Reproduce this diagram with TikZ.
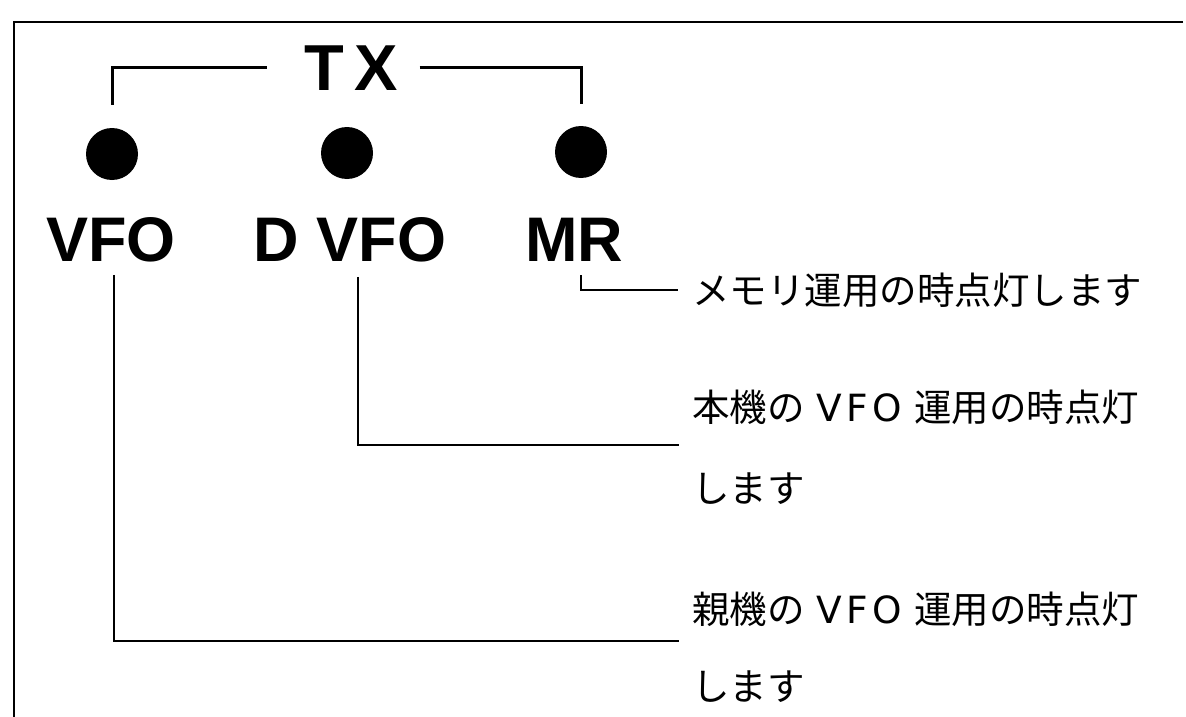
\documentclass[tikz,border=0pt]{standalone}
\usepackage{fontspec}
\newfontfamily\lblfont{Liberation Sans}
\newfontfamily\jpfont{Noto Sans CJK JP}
\newfontfamily\vfofont{DejaVu Sans}[LetterSpace=12]
\newcommand\descfont{\jpfont\fontsize{37.5}{45}\selectfont\spaceskip=12pt\relax}
\newcommand\lblbig{\lblfont\bfseries\fontsize{63}{70}\selectfont}
\newcommand\txfont{\lblfont\bfseries\fontsize{65}{72}\selectfont}
\begin{document}
\begin{tikzpicture}[x=1pt,y=-1pt,
  lbl/.style={font=\lblbig, inner sep=0pt, anchor=base},
  desc/.style={font=\descfont, inner sep=0pt, anchor=base west},
  lamp/.style={circle, fill=black, minimum size=52pt, inner sep=0pt},
  conn/.style={line width=2.2pt},
  brk/.style={line width=3pt},
  frame/.style={line width=2.6pt}]
\useasboundingbox (0,0) rectangle (1186,717);
\fill[white] (0,0) rectangle (1186,717);
% frame
\draw[frame] (1183,22) -- (14,22) -- (14,717);
% TX bracket
\node[lbl, font=\txfont] (tx) at (351,90) {T\hspace{10pt}X};
\node[lamp] (l1) at (112,154) {};
\node[lamp] (l2) at (347,153) {};
\node[lamp] (l3) at (581,152) {};
\draw[brk] ([yshift=23pt]l1.north) |- ([xshift=-37pt]tx.west);
\draw[brk] ([xshift=22pt]tx.east) -| ([yshift=22pt]l3.north);
% labels
\node[lbl] (vfo) at (111,261) {VFO};
\node[lbl] (dvfo) at (350,261) {D VFO};
\node[lbl] (mr) at (574,261) {MR};
% descriptions
\node[desc] (t1) at (692,304) {メモリ運用の時点灯します};
\node[desc] (t2) at (692,421) {本機の {\vfofont VFO} 運用の時点灯};
\node[desc] (t2b) at (692,502) {します};
\node[desc] (t3) at (692,623) {親機の {\vfofont VFO} 運用の時点灯};
\node[desc] (t3b) at (692,700) {します};
% connectors
\coordinate (e1) at (679,641);
\coordinate (e2) at (679,445);
\draw[conn] ([xshift=3pt,yshift=-13pt]vfo.south) |- (e1);
\draw[conn] ([xshift=8pt,yshift=-15pt]dvfo.south) |- (e2);
\draw[conn, shorten >=14pt] ([xshift=7pt,yshift=-14pt]mr.south) |- (t1.west);
\end{tikzpicture}
\end{document}
